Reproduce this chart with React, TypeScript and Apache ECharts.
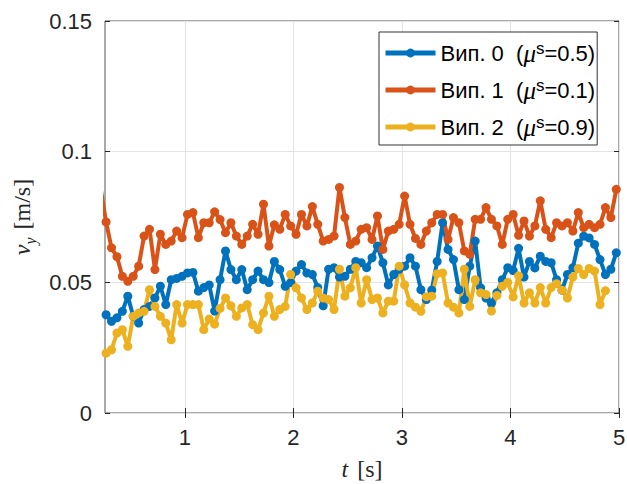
import React, { useEffect, useRef } from 'react';
import * as echarts from 'echarts';

// time samples [s]
const T = [
  0.225, 0.275, 0.325, 0.375, 0.425, 0.475, 0.525, 0.575, 0.625, 0.675,
  0.725, 0.775, 0.825, 0.875, 0.925, 0.975, 1.025, 1.075, 1.125, 1.175,
  1.225, 1.275, 1.325, 1.375, 1.425, 1.475, 1.525, 1.575, 1.625, 1.675,
  1.725, 1.775, 1.825, 1.875, 1.925, 1.975, 2.025, 2.075, 2.125, 2.175,
  2.225, 2.275, 2.325, 2.375, 2.425, 2.475, 2.525, 2.575, 2.625, 2.675,
  2.725, 2.775, 2.825, 2.875, 2.925, 2.975, 3.025, 3.075, 3.125, 3.175,
  3.225, 3.275, 3.325, 3.375, 3.425, 3.475, 3.525, 3.575, 3.625, 3.675,
  3.725, 3.775, 3.825, 3.875, 3.925, 3.975, 4.025, 4.075, 4.125, 4.175,
  4.225, 4.275, 4.325, 4.375, 4.425, 4.475, 4.525, 4.575, 4.625, 4.675,
  4.725, 4.775, 4.825, 4.875, 4.925, 4.975,
];

// Вип. 0 (blue)
const V0 = [
  0.038, 0.0376, 0.0351, 0.0364, 0.0389, 0.0447, 0.037, 0.0344, 0.0396, 0.0408,
  0.044, 0.0485, 0.0415, 0.051, 0.0515, 0.0523, 0.0536, 0.0538, 0.0466, 0.048,
  0.049, 0.039, 0.051, 0.062, 0.0549, 0.051, 0.0549, 0.0472, 0.051, 0.0543,
  0.051, 0.0499, 0.058, 0.0549, 0.0485, 0.0499, 0.0543, 0.0568, 0.0536, 0.053,
  0.048, 0.041, 0.055, 0.0556, 0.052, 0.0523, 0.055, 0.058, 0.0575, 0.0556,
  0.0594, 0.0639, 0.0575, 0.049, 0.053, 0.055, 0.0562, 0.0594, 0.0562, 0.0472,
  0.0434, 0.047, 0.058, 0.0728, 0.0626, 0.0587, 0.0472, 0.0434, 0.0562, 0.0658,
  0.0479, 0.044, 0.0421, 0.046, 0.051, 0.0556, 0.0545, 0.063, 0.052, 0.058,
  0.0555, 0.06, 0.058, 0.0575, 0.051, 0.047, 0.053, 0.0556, 0.065, 0.0677,
  0.067, 0.0645, 0.0587, 0.053, 0.055, 0.0613,
];

// Вип. 1 (red)
const V1 = [
  0.086, 0.0731, 0.0632, 0.0598, 0.0523, 0.0504, 0.0523, 0.0562, 0.0677, 0.0703,
  0.0549, 0.0684, 0.0645, 0.0658, 0.0696, 0.0671, 0.076, 0.0767, 0.0671, 0.0728,
  0.0728, 0.077, 0.074, 0.069, 0.0728, 0.0677, 0.0645, 0.0677, 0.0722, 0.0684,
  0.0799, 0.0639, 0.072, 0.0703, 0.076, 0.0716, 0.0684, 0.076, 0.0716, 0.079,
  0.0722, 0.0658, 0.0664, 0.0677, 0.0863, 0.0748, 0.0645, 0.0658, 0.0703, 0.0709,
  0.0664, 0.0754, 0.0626, 0.0696, 0.0703, 0.0722, 0.083, 0.0722, 0.0668, 0.0645,
  0.0696, 0.0728, 0.076, 0.076, 0.0664, 0.0748, 0.0728, 0.062, 0.0607, 0.0741,
  0.0741, 0.0786, 0.0741, 0.0716, 0.0645, 0.0741, 0.076, 0.068, 0.0735, 0.0677,
  0.0716, 0.0812, 0.0703, 0.0671, 0.0728, 0.0716, 0.0728, 0.0696, 0.0767, 0.0709,
  0.0722, 0.0709, 0.0722, 0.0786, 0.0748, 0.0856,
];

// Вип. 2 (yellow)
const V2 = [
  0.0228, 0.0229, 0.0242, 0.0306, 0.0319, 0.0255, 0.037, 0.0383, 0.0389, 0.0472,
  0.0408, 0.037, 0.0344, 0.028, 0.0415, 0.0344, 0.0415, 0.0415, 0.0415, 0.0319,
  0.036, 0.034, 0.04, 0.044, 0.041, 0.037, 0.0402, 0.0415, 0.0338, 0.0319,
  0.0383, 0.0447, 0.037, 0.0396, 0.0408, 0.053, 0.0479, 0.044, 0.0396, 0.0421,
  0.0466, 0.044, 0.0434, 0.0396, 0.055, 0.0447, 0.0479, 0.0556, 0.0421, 0.051,
  0.0434, 0.044, 0.0383, 0.0428, 0.0428, 0.0562, 0.049, 0.0421, 0.0405, 0.0389,
  0.0445, 0.0447, 0.0533, 0.0536, 0.0421, 0.0405, 0.0383, 0.055, 0.0408, 0.051,
  0.046, 0.0453, 0.039, 0.045, 0.0485, 0.05, 0.0444, 0.0525, 0.0421, 0.046,
  0.0421, 0.048, 0.0421, 0.048, 0.0495, 0.047, 0.044, 0.052, 0.0553, 0.053,
  0.0553, 0.0543, 0.0415, 0.0468, null, null,
];

const NAMES = ['Вип. 0', 'Вип. 1', 'Вип. 2'];
const MU = ['0.5', '0.1', '0.9'];
const COLORS = ['#0072BD', '#D95319', '#EDB120'];
const X_TICKS = [1, 2, 3, 4, 5];

const SANS = 'Liberation Sans, Arial, sans-serif';
const SERIF = 'Liberation Serif, Times New Roman, serif';

export default function App() {
  const ref = useRef<HTMLDivElement>(null);

  useEffect(() => {
    document.body.style.margin = '0';
    const chart = echarts.init(ref.current as HTMLDivElement, null, { renderer: 'svg' });
    const vals = [V0, V1, V2];
    const mk = (v: (number | null)[]) => T.map((t, i) => [t, v[i]]);

    const xCommon = { type: 'value' as const, min: 0.265, max: 5 };
    const yCommon = { type: 'value' as const, min: 0, max: 0.15, interval: 0.05 };

    const option: any = {
      animation: false,
      backgroundColor: '#fff',
      grid: {
        left: 105,
        right: 8,
        top: 21,
        bottom: 71,
        containLabel: false,
        outerBoundsMode: 'none',
        show: true,
        borderColor: '#555',
        borderWidth: 1,
      },
      legend: {
        orient: 'vertical',
        left: 379,
        top: 32,
        data: NAMES,
        padding: [8, 2, 5, 4],
        itemWidth: 50,
        itemHeight: 11,
        itemGap: 11,
        backgroundColor: '#fff',
        borderColor: '#333',
        borderWidth: 1,
        borderRadius: 0,
        lineStyle: { width: 5 },
        formatter: (name: string) => {
          const i = NAMES.indexOf(name);
          return `${name}  ({mu|μ}{s|s}=${MU[i]})`;
        },
        textStyle: {
          fontSize: 22,
          fontFamily: SANS,
          color: '#000',
          lineHeight: 26,
          rich: {
            mu: { fontSize: 25, fontFamily: SERIF, fontStyle: 'italic', color: '#000' },
            s: { fontSize: 17, fontFamily: SANS, color: '#000', verticalAlign: 'top', lineHeight: 26 },
          },
        },
      },
      xAxis: [
        {
          ...xCommon,
          position: 'bottom',
          axisLine: { show: false },
          axisTick: {
            show: true,
            inside: true,
            length: 5,
            customValues: X_TICKS,
            lineStyle: { color: '#262626' },
          },
          axisLabel: {
            customValues: X_TICKS,
            fontSize: 22,
            fontFamily: SANS,
            color: '#262626',
            margin: 13,
          },
          splitLine: { show: true, lineStyle: { color: '#e3e3e3', width: 1 } },
          name: '{i|t}{n|[s]}',
          nameLocation: 'middle',
          nameGap: 44,
          nameTextStyle: {
            rich: {
              i: { fontSize: 24, fontFamily: SERIF, fontStyle: 'italic', color: '#262626', padding: [0, 9, 0, 0] },
              n: { fontSize: 24, fontFamily: SERIF, color: '#262626' },
            },
          },
        },
        {
          ...xCommon,
          position: 'top',
          axisLine: { show: false },
          axisTick: {
            show: true,
            inside: true,
            length: 5,
            customValues: X_TICKS,
            lineStyle: { color: '#262626' },
          },
          axisLabel: { show: false },
          splitLine: { show: false },
        },
      ],
      yAxis: [
        {
          ...yCommon,
          position: 'left',
          axisLine: { show: false },
          axisTick: { show: true, inside: true, length: 5, lineStyle: { color: '#262626' } },
          axisLabel: {
            fontSize: 22,
            fontFamily: SANS,
            color: '#262626',
            margin: 13,
          },
          splitLine: { show: true, lineStyle: { color: '#e3e3e3', width: 1 } },
          name: '{i|v}{sub|y}{n|[m/s]}',
          nameLocation: 'middle',
          nameGap: 70,
          nameTextStyle: {
            rich: {
              i: { fontSize: 24, fontFamily: SERIF, fontStyle: 'italic', color: '#262626' },
              sub: { fontSize: 16, fontFamily: SERIF, fontStyle: 'italic', color: '#262626', verticalAlign: 'bottom', padding: [0, 8, -4, 0] },
              n: { fontSize: 24, fontFamily: SERIF, color: '#262626' },
            },
          },
        },
        {
          ...yCommon,
          position: 'right',
          axisLine: { show: false },
          axisTick: { show: true, inside: true, length: 5, lineStyle: { color: '#262626' } },
          axisLabel: { show: false },
          splitLine: { show: false },
        },
      ],
      series: vals.map((v, i) => ({
        name: NAMES[i],
        type: 'line',
        xAxisIndex: 0,
        yAxisIndex: 0,
        data: mk(v),
        symbol: 'circle',
        symbolSize: 9,
        showSymbol: true,
        showAllSymbol: true,
        clip: true,
        connectNulls: false,
        color: COLORS[i],
        itemStyle: { color: COLORS[i] },
        lineStyle: { color: COLORS[i], width: 4 },
        emphasis: { disabled: true },
      })),
    };

    chart.setOption(option);
    return () => chart.dispose();
  }, []);

  return <div ref={ref} style={{ width: 627, height: 484 }} />;
}
